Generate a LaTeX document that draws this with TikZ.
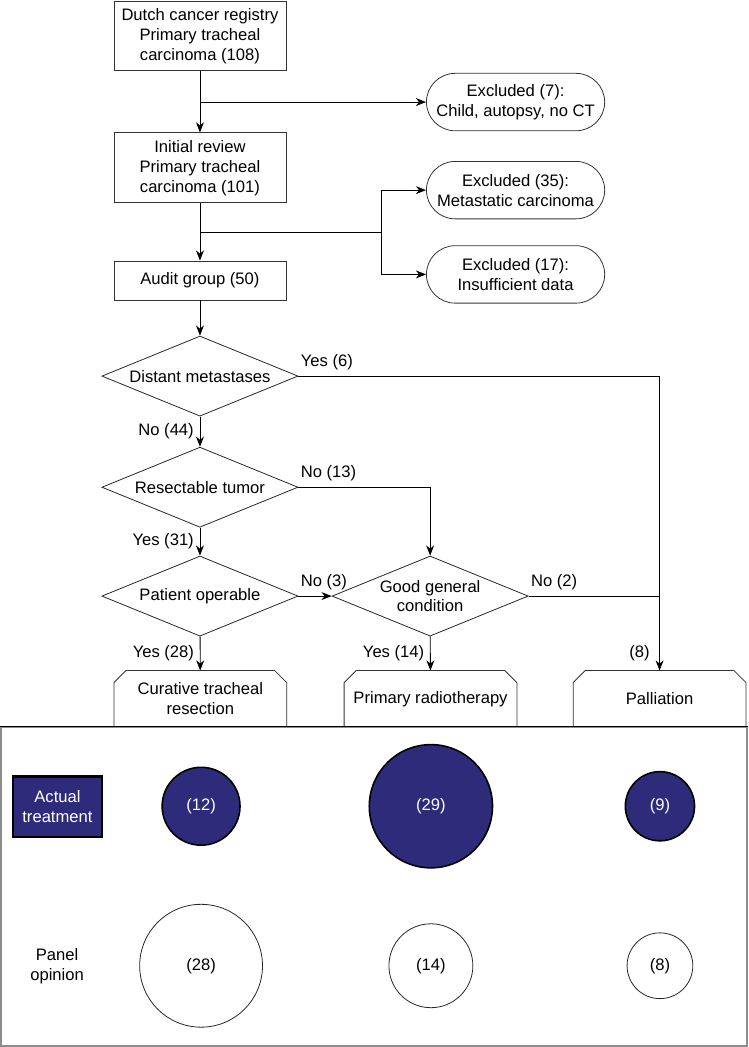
\documentclass[tikz,border=0pt]{standalone}
\usepackage{fontspec}
\setmainfont{Liberation Sans}
\usetikzlibrary{arrows.meta, shapes.geometric, shapes.misc}
\definecolor{navy}{RGB}{46,43,122}

\begin{document}
\begin{tikzpicture}[>={Stealth[length=2.7mm, width=2.1mm]}, line width=0.6pt,
  font=\fontsize{12.5}{15}\selectfont,
  box/.style={draw=black!80, minimum width=4.55cm, align=center},
  excl/.style={draw=black!80, rounded rectangle, minimum width=4.95cm, minimum height=1.52cm, align=center},
  decision/.style={draw=black!85, diamond, aspect=2.45, inner sep=0pt, minimum width=5.19cm, minimum height=2.12cm, align=center},
  outcome/.style={minimum width=4.55cm, minimum height=1.48cm, inner sep=0pt, align=center},
  lbl/.style={inner sep=1.5pt},
  actual/.style={circle, draw=black, line width=1.2pt, fill=navy, text=white, inner sep=0pt},
  panel/.style={circle, draw=black!85, inner sep=0pt}]
  \useasboundingbox (0,0) rectangle (19.79,-27.70);
  % registry and exclusions
  \node[box, minimum height=1.85cm] (dcr) at (5.29,-0.95) {Dutch cancer registry\\Primary tracheal\\carcinoma (108)};
  \node[box, minimum height=1.85cm] (ir) at (5.29,-4.44) {Initial review\\Primary tracheal\\carcinoma (101)};
  \node[box, minimum height=1.03cm] (ag) at (5.29,-7.42) {Audit group (50)};
  \node[excl] (ex7) at (13.64,-2.70) {Excluded (7):\\Child, autopsy, no CT};
  \node[excl] (ex35) at (13.64,-5.03) {Excluded (35):\\Metastatic carcinoma};
  \node[excl] (ex17) at (13.64,-7.26) {Excluded (17):\\Insufficient data};
  \coordinate (split) at (10.08,-6.14);
  \draw[->] (dcr) -- (ir);
  \draw[->] (dcr.south |- ex7) -- (ex7);
  \draw[->] (ir) -- (ag);
  \draw (ir.south |- split) -- (split);
  \draw[->] (split) |- (ex35);
  \draw[->] (split) |- (ex17);
  % decisions
  \node[decision] (dm) at (5.29,-9.95) {Distant metastases};
  \node[decision] (rt) at (5.29,-12.89) {Resectable tumor};
  \node[decision] (po) at (5.29,-15.77) {Patient operable};
  \node[decision] (gc) at (11.38,-15.77) {Good general\\condition};
  % treatments
  \node[outcome] (cur) at (5.30,-18.49) {Curative tracheal\\resection};
  \node[outcome] (rad) at (11.39,-18.49) {Primary radiotherapy};
  \node[outcome] (pal) at (17.45,-18.49) {Palliation};
  \foreach \n in {cur,rad,pal}
    \draw[black!80] (\n.south west) -- ([yshift=-3.2mm]\n.north west) -- ([xshift=3.2mm]\n.north west)
      -- ([xshift=-3.2mm]\n.north east) -- ([yshift=-3.2mm]\n.north east) -- (\n.south east);
  \draw[->] (ag) -- (dm);
  \draw[->] (dm) -- node[lbl, left, xshift=-1mm] {No (44)} (rt);
  \draw[->] (rt) -- node[lbl, left, xshift=-1mm] {Yes (31)} (po);
  \draw[->] (po) -- node[lbl, left, xshift=-1mm] {Yes (28)} (cur);
  \draw[->] (gc) -- node[lbl, left, xshift=-1mm] {Yes (14)} (rad);
  \draw[->] (dm.east) -| node[lbl, pos=0, above right, yshift=1mm] {Yes (6)}
    node[lbl, pos=0.97, left, xshift=-2mm] {(8)} (pal.north);
  \draw[->] (rt.east) -| node[lbl, pos=0, above right, yshift=1mm] {No (13)} (gc.north);
  \draw[->] (po.east) -- node[lbl, pos=0, above right, yshift=1mm] {No (3)} (gc.west);
  \draw (gc.east) -- node[lbl, pos=0, above right, yshift=1mm] {No (2)} (gc.east -| pal.north);
  % comparison panel
  \draw[black!45, line width=1pt] (0.03,-19.23) rectangle (19.76,-27.67);
  \draw (0,-19.23) -- (19.79,-19.23);
  \node[draw=black, line width=2pt, fill=navy, text=white, minimum width=2.35cm, minimum height=1.61cm, align=center, inner sep=1pt] (at) at (1.52,-21.34) {Actual\\treatment};
  \node[align=center] (po2) at (1.51,-25.56) {Panel\\opinion};
  \node[actual, minimum size=2.06cm] (a12) at (5.32,-21.33) {(12)};
  \node[actual, minimum size=3.26cm] (a29) at (11.40,-21.33) {(29)};
  \node[actual, minimum size=1.83cm] (a9) at (17.46,-21.33) {(9)};
  \node[panel, minimum size=3.25cm] (p28) at (5.32,-25.55) {(28)};
  \node[panel, minimum size=2.22cm] (p14) at (11.40,-25.55) {(14)};
  \node[panel, minimum size=1.74cm] (p8) at (17.46,-25.55) {(8)};
\end{tikzpicture}
\end{document}
